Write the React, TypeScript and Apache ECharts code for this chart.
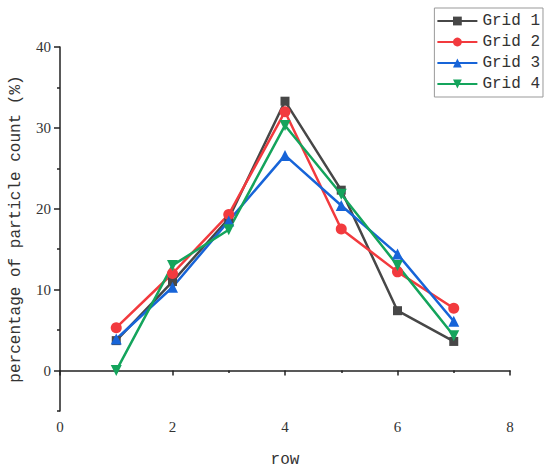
import React, { useEffect, useRef } from "react";
import * as echarts from "echarts";

const rows = [1, 2, 3, 4, 5, 6, 7];
const seriesNames = ["Grid 1", "Grid 2", "Grid 3", "Grid 4"];
const grid1 = [3.7, 11.0, 18.8, 33.3, 22.3, 7.4, 3.6];
const grid2 = [5.3, 12.0, 19.3, 32.0, 17.5, 12.2, 7.7];
const grid3 = [3.9, 10.3, 18.5, 26.6, 20.4, 14.4, 6.1];
const grid4 = [0.0, 13.0, 17.4, 30.3, 21.8, 13.0, 4.3];
const yMajorTicks = [0, 10, 20, 30, 40];
const yMinorTicks = [-5, 5, 15, 25, 35];

const colors = ["#474747", "#F23A3E", "#1764D8", "#14A45C"];
const symbols = ["rect", "circle", "triangle", "triangle"];
const rotations = [0, 0, 0, 180];

const FONT = "Liberation Serif";
const MONO = "Liberation Mono";

export default function App() {
  const ref = useRef<HTMLDivElement>(null);
  useEffect(() => {
    document.body.style.margin = "0";
    if (!ref.current) return;
    const chart = echarts.init(ref.current, null, { renderer: "svg" });
    const datasets = [grid1, grid2, grid3, grid4];
    const axisText = { color: "#333", fontFamily: FONT, fontSize: 15 };
    chart.setOption({
      animation: false,
      backgroundColor: "#fff",
      grid: { left: 56, right: 40, top: 47, bottom: 59, containLabel: false },
      legend: {
        right: 7,
        top: 8,
        orient: "vertical",
        itemWidth: 40,
        itemHeight: 11,
        itemGap: 5,
        padding: [5, 3, 5, 2],
        borderColor: "#999",
        borderWidth: 1,
        textStyle: { fontFamily: MONO, fontSize: 16, color: "#333" },
        data: seriesNames,
      },
      xAxis: {
        type: "value",
        min: 0,
        max: 8,
        interval: 2,
        name: "row",
        nameLocation: "middle",
        nameGap: 41,
        nameTextStyle: { color: "#333", fontFamily: MONO, fontSize: 16 },
        axisLine: { lineStyle: { color: "#222", width: 1.5 } },
        axisTick: { show: true, inside: false, length: 5, lineStyle: { color: "#222", width: 1.5 } },
        minorTick: { show: true, splitNumber: 2, length: 2.5, lineStyle: { color: "#222", width: 1.5 } },
        axisLabel: { ...axisText, margin: 8 },
        splitLine: { show: false },
      },
      yAxis: [
        {
          type: "value",
          min: -5,
          max: 40,
          name: "percentage of particle count (%)",
          nameLocation: "middle",
          nameGap: 36,
          nameTextStyle: { color: "#333", fontFamily: MONO, fontSize: 16 },
          axisLine: { show: true, lineStyle: { color: "#222", width: 1.5 } },
          axisTick: { show: true, inside: false, length: 6, customValues: yMajorTicks, lineStyle: { color: "#222", width: 1.5 } },
          axisLabel: { ...axisText, margin: 9, customValues: yMajorTicks },
          splitLine: { show: false },
        },
        {
          type: "value",
          min: -5,
          max: 40,
          position: "left",
          axisLine: { show: false },
          axisTick: { show: true, inside: false, length: 3, customValues: yMinorTicks, lineStyle: { color: "#222", width: 1.5 } },
          axisLabel: { show: false },
          splitLine: { show: false },
        },
      ],
      series: datasets.map((d, i) => ({
        name: seriesNames[i],
        type: "line",
        yAxisIndex: 0,
        data: rows.map((r, j) => [r, d[j]]),
        symbol: symbols[i],
        symbolRotate: rotations[i],
        symbolSize: i === 0 ? 9 : 11,
        showAllSymbol: true,
        color: colors[i],
        lineStyle: { color: colors[i], width: 2.5 },
        itemStyle: { color: colors[i] },
      })),
    });
    return () => chart.dispose();
  }, []);
  return <div ref={ref} style={{ width: 550, height: 473 }} />;
}
